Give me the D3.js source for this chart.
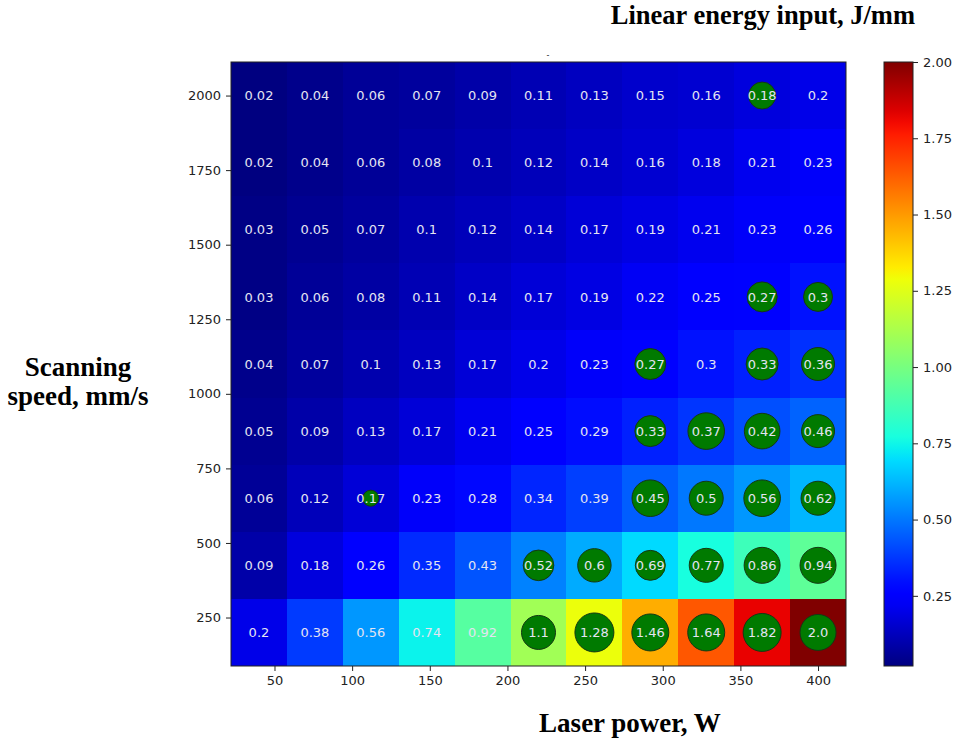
<!DOCTYPE html>
<html><head><meta charset="utf-8">
<script src="https://cdn.jsdelivr.net/npm/d3@7"></script>
<style>body{margin:0;background:#fff}svg{display:block}</style>
</head><body>
<svg id="c" width="958" height="743"></svg>
<script>
// ---- data ----
const laserPower = [40, 76, 112, 148, 184, 220, 256, 292, 328, 364, 400];
const scanSpeed = [2000, 1775, 1550, 1325, 1100, 875, 650, 425, 200];
const energy2000 = [0.02,0.04,0.06,0.07,0.09,0.11,0.13,0.15,0.16,0.18,0.2];
const energy1775 = [0.02,0.04,0.06,0.08,0.1,0.12,0.14,0.16,0.18,0.21,0.23];
const energy1550 = [0.03,0.05,0.07,0.1,0.12,0.14,0.17,0.19,0.21,0.23,0.26];
const energy1325 = [0.03,0.06,0.08,0.11,0.14,0.17,0.19,0.22,0.25,0.27,0.3];
const energy1100 = [0.04,0.07,0.1,0.13,0.17,0.2,0.23,0.27,0.3,0.33,0.36];
const energy875  = [0.05,0.09,0.13,0.17,0.21,0.25,0.29,0.33,0.37,0.42,0.46];
const energy650  = [0.06,0.12,0.17,0.23,0.28,0.34,0.39,0.45,0.5,0.56,0.62];
const energy425  = [0.09,0.18,0.26,0.35,0.43,0.52,0.6,0.69,0.77,0.86,0.94];
const energy200  = [0.2,0.38,0.56,0.74,0.92,1.1,1.28,1.46,1.64,1.82,2.0];
const energyRows = [energy2000, energy1775, energy1550, energy1325, energy1100, energy875, energy650, energy425, energy200];
// marked points (power, speed, marker size)
const markPower = [364, 364, 400, 292, 364, 400, 292, 328, 364, 400, 112, 292, 328, 364, 400, 220, 256, 292, 328, 364, 400, 220, 256, 292, 328, 364, 400];
const markSpeed = [2000, 1325, 1325, 1100, 1100, 1100, 875, 875, 875, 875, 650, 650, 650, 650, 650, 425, 425, 425, 425, 425, 425, 200, 200, 200, 200, 200, 200];
const markSize  = [182, 225, 210, 240, 256, 272, 240, 335, 317, 272, 64, 335, 289, 335, 289, 234, 279, 225, 289, 324, 324, 289, 380, 342, 342, 361, 324];
const xTicks = [50, 100, 150, 200, 250, 300, 350, 400];
const yTicks = [250, 500, 750, 1000, 1250, 1500, 1750, 2000];
const cbTicks = [0.25, 0.5, 0.75, 1.0, 1.25, 1.5, 1.75, 2.0];
const colorMin = 0.02, colorMax = 2.0;

// ---- jet colormap ----
function interpSeg(seg, x) {
  for (let i = 1; i < seg.length; i++) {
    if (x <= seg[i][0]) {
      const [x0, y0] = seg[i-1], [x1, y1] = seg[i];
      return y0 + (y1 - y0) * (x - x0) / (x1 - x0);
    }
  }
  return seg[seg.length-1][1];
}
const jr = [[0,0],[0.35,0],[0.66,1],[0.89,1],[1,0.5]];
const jg = [[0,0],[0.125,0],[0.375,1],[0.64,1],[0.91,0],[1,0]];
const jb = [[0,0.5],[0.11,1],[0.34,1],[0.65,0],[1,0]];
function jet(t) {
  t = Math.max(0, Math.min(1, t));
  return d3.rgb(255*interpSeg(jr,t), 255*interpSeg(jg,t), 255*interpSeg(jb,t)).formatHex();
}

const svg = d3.select("#c");
const W = {l: 231, r: 846, t: 62, b: 666};
const pStep = laserPower[1] - laserPower[0];
const vStep = scanSpeed[0] - scanSpeed[1];
const x = d3.scaleLinear().domain([d3.min(laserPower) - pStep/2, d3.max(laserPower) + pStep/2]).range([W.l, W.r]);
const y = d3.scaleLinear().domain([d3.min(scanSpeed) - vStep/2, d3.max(scanSpeed) + vStep/2]).range([W.b, W.t]);
const cnorm = d3.scaleLinear().domain([colorMin, colorMax]).range([0, 1]);

const cells = [];
scanSpeed.forEach((v, i) => laserPower.forEach((p, j) => cells.push({p, v, e: energyRows[i][j]})));

const fmt = e => Number.isInteger(e) ? e.toFixed(1) : String(e);

svg.append("g").attr("shape-rendering", "crispEdges").selectAll("rect").data(cells).join("rect")
  .attr("x", d => Math.round(x(d.p - pStep/2))).attr("y", d => Math.round(y(d.v + vStep/2)))
  .attr("width", d => Math.round(x(d.p + pStep/2)) - Math.round(x(d.p - pStep/2)))
  .attr("height", d => Math.round(y(d.v - vStep/2)) - Math.round(y(d.v + vStep/2)))
  .attr("fill", d => jet(cnorm(d.e)));

const rScale = d3.scaleSqrt().domain([0, 400]).range([0, 20]);
const marks = markPower.map((p, i) => ({p, v: markSpeed[i], s: markSize[i]}));
svg.append("g").selectAll("circle").data(marks).join("circle")
  .attr("cx", d => x(d.p)).attr("cy", d => y(d.v)).attr("r", d => rScale(d.s))
  .attr("fill", "#007a00").attr("stroke", "#143814").attr("stroke-width", 1);

svg.append("g").selectAll("text").data(cells).join("text")
  .attr("x", d => x(d.p)).attr("y", d => y(d.v)).attr("dy", "0.36em")
  .attr("text-anchor", "middle").attr("font-family", "DejaVu Sans").attr("font-size", 13)
  .attr("fill", "#e4e4f2").text(d => fmt(d.e));

// frame
svg.append("rect").attr("x", W.l).attr("y", W.t).attr("width", W.r - W.l).attr("height", W.b - W.t)
  .attr("fill", "none").attr("stroke", "#222").attr("stroke-width", 1);

// axes
const xa = svg.append("g").attr("transform", `translate(0,${W.b})`)
  .call(d3.axisBottom(x).tickValues(xTicks).tickSize(5).tickPadding(5).tickFormat(d3.format("d")));
const ya = svg.append("g").attr("transform", `translate(${W.l},0)`)
  .call(d3.axisLeft(y).tickValues(yTicks).tickSize(5).tickPadding(5).tickFormat(d3.format("d")));
[xa, ya].forEach(a => {
  a.select(".domain").remove();
  a.selectAll("text").attr("font-family", "DejaVu Sans").attr("font-size", 13).attr("fill", "#222");
  a.selectAll("line").attr("stroke", "#222");
});

// colorbar
const CB = {l: 884, r: 913, t: 62, b: 666};
const grad = svg.append("defs").append("linearGradient").attr("id", "jetg")
  .attr("x1", 0).attr("y1", 1).attr("x2", 0).attr("y2", 0);
d3.range(0, 1.0001, 0.02).forEach(t => grad.append("stop").attr("offset", t).attr("stop-color", jet(t)));
svg.append("rect").attr("x", CB.l).attr("y", CB.t).attr("width", CB.r - CB.l).attr("height", CB.b - CB.t)
  .attr("fill", "url(#jetg)").attr("stroke", "#222").attr("stroke-width", 1);
const cy = d3.scaleLinear().domain([colorMin, colorMax]).range([CB.b, CB.t]);
const ca = svg.append("g").attr("transform", `translate(${CB.r},0)`)
  .call(d3.axisRight(cy).tickValues(cbTicks).tickSize(5).tickPadding(5).tickFormat(d3.format(".2f")));
ca.select(".domain").remove();
ca.selectAll("text").attr("font-family", "DejaVu Sans").attr("font-size", 13).attr("fill", "#222");
ca.selectAll("line").attr("stroke", "#222");

// small title mark
svg.append("text").attr("x", 548).attr("y", 58).attr("text-anchor", "middle")
  .attr("font-family", "DejaVu Sans").attr("font-size", 8).attr("fill", "#222").text("-");

// titles
const tfont = "'Liberation Serif', 'Times New Roman', serif";
svg.append("text").attr("x", 915).attr("y", 24).attr("text-anchor", "end")
  .attr("font-family", tfont).attr("font-weight", "bold").attr("font-size", 26.5).attr("fill", "#000")
  .text("Linear energy input, J/mm");
svg.append("text").attr("x", 630).attr("y", 732).attr("text-anchor", "middle")
  .attr("font-family", tfont).attr("font-weight", "bold").attr("font-size", 27).attr("fill", "#000")
  .text("Laser power, W");
const yt = svg.append("text").attr("text-anchor", "middle")
  .attr("font-family", tfont).attr("font-weight", "bold").attr("font-size", 27).attr("fill", "#000");
yt.append("tspan").attr("x", 78).attr("y", 376).text("Scanning");
yt.append("tspan").attr("x", 78).attr("y", 405).text("speed, mm/s");
</script>
</body></html>
